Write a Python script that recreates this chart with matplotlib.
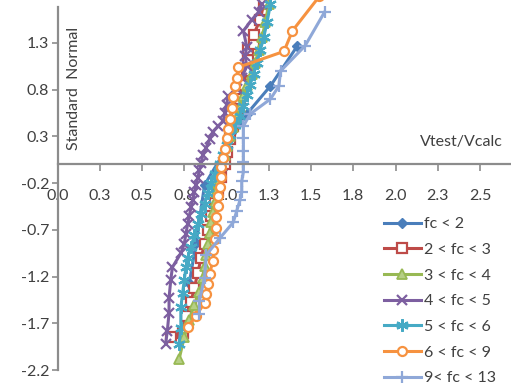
import matplotlib
matplotlib.use("Agg")
import matplotlib.pyplot as plt

plt.rcParams['font.family'] = ['Lato', 'DejaVu Sans']

labels = ["fc < 2", "2 < fc < 3", "3 < fc < 4", "4 < fc < 5", "5 < fc < 6", "6 < fc < 9", "9< fc < 13"]

fc2_x = [0.78, 0.82, 0.87, 1.12, 1.26, 1.42]
fc2_y = [-1.27, -0.84, -0.22, 0.54, 0.84, 1.27]

fc23_x = [0.67, 0.74, 0.76, 0.79, 0.81, 0.83, 0.85, 0.87, 0.89, 0.91, 0.93, 0.95, 0.97, 0.99,
          1.00, 1.02, 1.04, 1.06, 1.08, 1.10, 1.12, 1.13, 1.13, 1.16, 1.16, 1.20, 1.22]
fc23_y = [-1.85, -1.80, -1.62, -1.47, -1.32, -1.16, -1.00, -0.85, -0.70, -0.55, -0.41, -0.27, -0.13, 0.00,
          0.13, 0.27, 0.41, 0.55, 0.70, 0.85, 1.00, 1.12, 1.23, 1.29, 1.39, 1.55, 1.72]

fc34_x = [0.72, 0.75, 0.78, 0.81, 0.84, 0.86, 0.87, 0.88, 0.89, 0.90, 0.91, 0.92, 0.93, 0.94, 0.95, 0.96,
          0.97, 0.99, 1.00, 1.02, 1.04, 1.06, 1.08, 1.10, 1.12, 1.15, 1.17, 1.19, 1.21, 1.23, 1.25]
fc34_y = [-2.08, -1.85, -1.66, -1.50, -1.36, -1.22, -1.09, -0.97, -0.85, -0.73, -0.62, -0.51, -0.40, -0.30, -0.20, -0.10,
          0.00, 0.10, 0.20, 0.30, 0.40, 0.51, 0.62, 0.73, 0.85, 0.97, 1.09, 1.22, 1.36, 1.52, 1.72]

fc45_x = [0.64, 0.65, 0.66, 0.66, 0.67, 0.68, 0.73, 0.75, 0.76, 0.77, 0.78, 0.79, 0.80, 0.81, 0.82, 0.83,
          0.84, 0.85, 0.86, 0.88, 0.90, 0.92, 0.95, 0.98, 0.99, 1.00, 1.01, 1.06, 1.09, 1.12, 1.11, 1.12,
          1.10, 1.15, 1.19, 1.21]
fc45_y = [-1.92, -1.78, -1.59, -1.43, -1.24, -1.10, -0.95, -0.85, -0.74, -0.64, -0.55, -0.46, -0.38, -0.30, -0.22, -0.14,
          -0.06, 0.02, 0.10, 0.18, 0.27, 0.35, 0.41, 0.46, 0.55, 0.64, 0.73, 0.81, 0.93, 1.05, 1.16, 1.26,
          1.43, 1.55, 1.63, 1.72]

fc56_x = [0.72, 0.73, 0.73, 0.74, 0.75, 0.76, 0.77, 0.79, 0.81, 0.83, 0.85, 0.87, 0.89, 0.91, 0.93, 0.96,
          0.98, 1.00, 1.02, 1.05, 1.08, 1.10, 1.12, 1.14, 1.16, 1.18, 1.20, 1.22, 1.24, 1.26]
fc56_y = [-1.92, -1.75, -1.53, -1.38, -1.24, -1.10, -1.00, -0.88, -0.76, -0.64, -0.53, -0.42, -0.31, -0.20, -0.10, 0.00,
          0.10, 0.21, 0.31, 0.42, 0.52, 0.63, 0.74, 0.85, 0.97, 1.09, 1.22, 1.36, 1.52, 1.72]

fc69_x = [0.77, 0.82, 0.87, 0.88, 0.89, 0.90, 0.92, 0.92, 0.93, 0.94, 0.94, 0.95, 0.95, 0.96, 0.97, 0.97,
          0.98, 0.99, 1.00, 1.01, 1.02, 1.03, 1.04, 1.05, 1.06, 1.07, 1.34, 1.39, 1.55]
fc69_y = [-1.74, -1.62, -1.48, -1.39, -1.28, -1.17, -1.03, -0.92, -0.80, -0.68, -0.56, -0.45, -0.34, -0.24, -0.13, -0.03,
          0.07, 0.17, 0.28, 0.38, 0.49, 0.60, 0.72, 0.84, 0.93, 1.04, 1.21, 1.43, 1.80]

fc913_x = [0.84, 0.84, 0.87, 0.88, 0.96, 1.04, 1.06, 1.08, 1.09, 1.09, 1.10, 1.10, 1.10, 1.10, 1.10,
           1.14, 1.26, 1.31, 1.32, 1.465, 1.58]
fc913_y = [-1.60, -1.46, -1.21, -0.97, -0.79, -0.62, -0.50, -0.38, -0.29, -0.18, -0.08, 0.03, 0.14, 0.28, 0.41,
           0.54, 0.70, 0.84, 1.00, 1.27, 1.63]

xticks = [0.0, 0.25, 0.5, 0.75, 1.0, 1.25, 1.5, 1.75, 2.0, 2.25, 2.5]
xtick_labels = ["0.0", "0.3", "0.5", "0.8", "1.0", "1.3", "1.5", "1.8", "2.0", "2.3", "2.5"]
yticks = [-2.2, -1.7, -1.2, -0.7, -0.2, 0.3, 0.8, 1.3]
ytick_labels = ["-2.2", "-1.7", "-1.2", "-0.7", "-0.2", "0.3", "0.8", "1.3"]

series = [
    (fc2_x, fc2_y, "#4A7EBB", dict(marker="D", markersize=5.5, markerfacecolor="#4A7EBB")),
    (fc23_x, fc23_y, "#BE4B48", dict(marker="s", markersize=6.5, markerfacecolor="white", markeredgewidth=1.6)),
    (fc34_x, fc34_y, "#98B954", dict(marker="^", markersize=6.5, markerfacecolor="#B6CF85", markeredgewidth=1.3)),
    (fc45_x, fc45_y, "#7D5FA0", dict(marker="x", markersize=7, markeredgewidth=1.6)),
    (fc56_x, fc56_y, "#46AAC5", dict(marker=(6, 2, 0), markersize=9, markeredgewidth=1.6)),
    (fc69_x, fc69_y, "#F69240", dict(marker="o", markersize=6.5, markerfacecolor="white", markeredgewidth=1.6)),
    (fc913_x, fc913_y, "#8FA8D8", dict(marker="+", markersize=9, markeredgewidth=1.6)),
]

fig = plt.figure(figsize=(5.11, 3.91), dpi=100)
fig.patch.set_facecolor("white")
ax = fig.add_axes([57.5 / 511, 21 / 391, 1 - 57.5 / 511, 370 / 391])

handles = []
for (xs, ys, col, mk), lab in zip(series, labels):
    h, = ax.plot(xs, ys, color=col, linewidth=2.2, markeredgecolor=col, label=lab, clip_on=True, **mk)
    handles.append(h)

ax.set_xlim(0, 453.5 / 169)
ax.set_ylim(-2.2, 1.76)

axis_col = "#8C8C8C"
ax.spines['top'].set_visible(False)
ax.spines['right'].set_visible(False)
ax.spines['bottom'].set_position(('data', 0))
ax.spines['bottom'].set_color(axis_col)
ax.spines['left'].set_color(axis_col)
ax.spines['bottom'].set_linewidth(1.6)
ax.spines['left'].set_linewidth(1.6)
ax.spines['left'].set_bounds(-2.2, 1.68)

fs = 11.5
ax.set_xticks(xticks)
ax.set_xticklabels(xtick_labels)
ax.set_yticks(yticks)
ax.set_yticklabels(ytick_labels)
ax.tick_params(axis='x', direction='out', length=5, width=1.2, color=axis_col, pad=13,
               labelsize=fs, labelcolor="#404040")
ax.tick_params(axis='y', direction='out', length=4, width=1.2, color=axis_col, pad=2,
               labelsize=fs, labelcolor="#404040")

ax.text(2.39, 0.245, "Vtest/Vcalc", ha="center", va="center", fontsize=fs, color="#404040")
ax.text(0.1, 0.81, "Standard  Normal", ha="center", va="center", rotation=90, fontsize=fs, color="#404040")

leg = fig.legend(handles=handles, labels=labels, loc="upper left",
                 bbox_to_anchor=(384 / 511, 1 - 217 / 391), frameon=False,
                 fontsize=fs, handlelength=2.3, handletextpad=0.2, labelspacing=0.72,
                 borderpad=0, borderaxespad=0)
for t in leg.get_texts():
    t.set_color("#404040")

fig.savefig("out.png", dpi=100, facecolor="white")
